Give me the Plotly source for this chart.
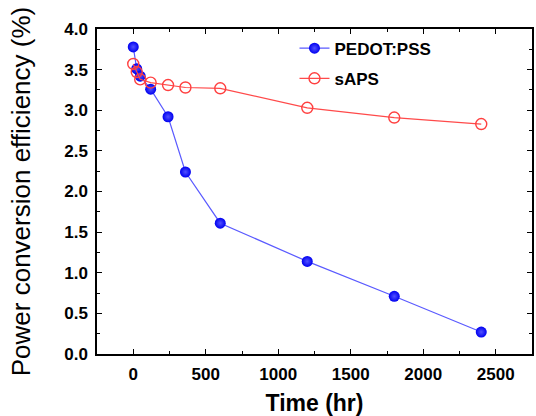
import plotly.graph_objects as go

time_pedot = [0, 24, 48, 120, 240, 360, 600, 1200, 1800, 2400]
pce_pedot = [3.78, 3.51, 3.42, 3.26, 2.92, 2.24, 1.61, 1.14, 0.71, 0.27]

time_saps = [0, 24, 48, 120, 240, 360, 600, 1200, 1800, 2400]
pce_saps = [3.57, 3.47, 3.38, 3.34, 3.31, 3.28, 3.27, 3.03, 2.91, 2.83]

x_ticks = [0, 500, 1000, 1500, 2000, 2500]
y_ticks = [0.0, 0.5, 1.0, 1.5, 2.0, 2.5, 3.0, 3.5, 4.0]

FONT = "Liberation Sans, Arial, sans-serif"

fig = go.Figure()
fig.add_trace(go.Scatter(
    x=time_pedot, y=pce_pedot, name="PEDOT:PSS", mode="lines+markers",
    legendgroup="a",
    line=dict(color="#5a5aff", width=1.2),
    marker=dict(symbol="circle", size=11, color="#0000f0",
                gradient=dict(type="radial", color="#5050ff"),
                line=dict(width=0)),
))
fig.add_trace(go.Scatter(
    x=time_saps, y=pce_saps, name="sAPS", mode="lines+markers",
    legendgroup="b",
    line=dict(color="#ff4a4a", width=1.2),
    marker=dict(symbol="circle-open", size=11, color="#ff4040",
                line=dict(width=1.4, color="#ff4040")),
))

axis_common = dict(
    showline=True, linecolor="black", linewidth=1.5, mirror="allticks",
    ticks="inside", ticklen=5, tickwidth=1.3, tickcolor="black",
    showgrid=False, zeroline=False,
    tickfont=dict(family=FONT, size=17, color="black", weight="bold"),
)

fig.update_xaxes(
    range=[-250, 2750], tickvals=x_ticks, ticktext=[str(v) for v in x_ticks],
    minor=dict(ticks="inside", ticklen=3, tickwidth=1.2, dtick=250, tick0=-250, tickcolor="black"),
    title=dict(text="Time (hr)", font=dict(family=FONT, size=23, color="black", weight="bold"), standoff=12),
    ticklabelstandoff=4,
    **axis_common,
)
fig.update_yaxes(
    range=[0, 4], tickvals=y_ticks, ticktext=[f"{v:.1f}" for v in y_ticks],
    minor=dict(ticks="inside", ticklen=3, tickwidth=1.2, dtick=0.25, tick0=0, tickcolor="black"),
    title=dict(text="Power conversion efficiency (%)", font=dict(family=FONT, size=26, color="black"), standoff=26),
    ticklabelstandoff=4,
    **axis_common,
)

fig.update_layout(
    width=536, height=416,
    margin=dict(l=97, r=2, t=29, b=62),
    paper_bgcolor="white", plot_bgcolor="white",
    showlegend=True,
    legend=dict(x=0.454, y=0.995, xanchor="left", yanchor="top",
                bgcolor="rgba(0,0,0,0)", tracegroupgap=5,
                font=dict(family=FONT, size=17, color="black", weight="bold")),
)

fig.write_html("out.html")
